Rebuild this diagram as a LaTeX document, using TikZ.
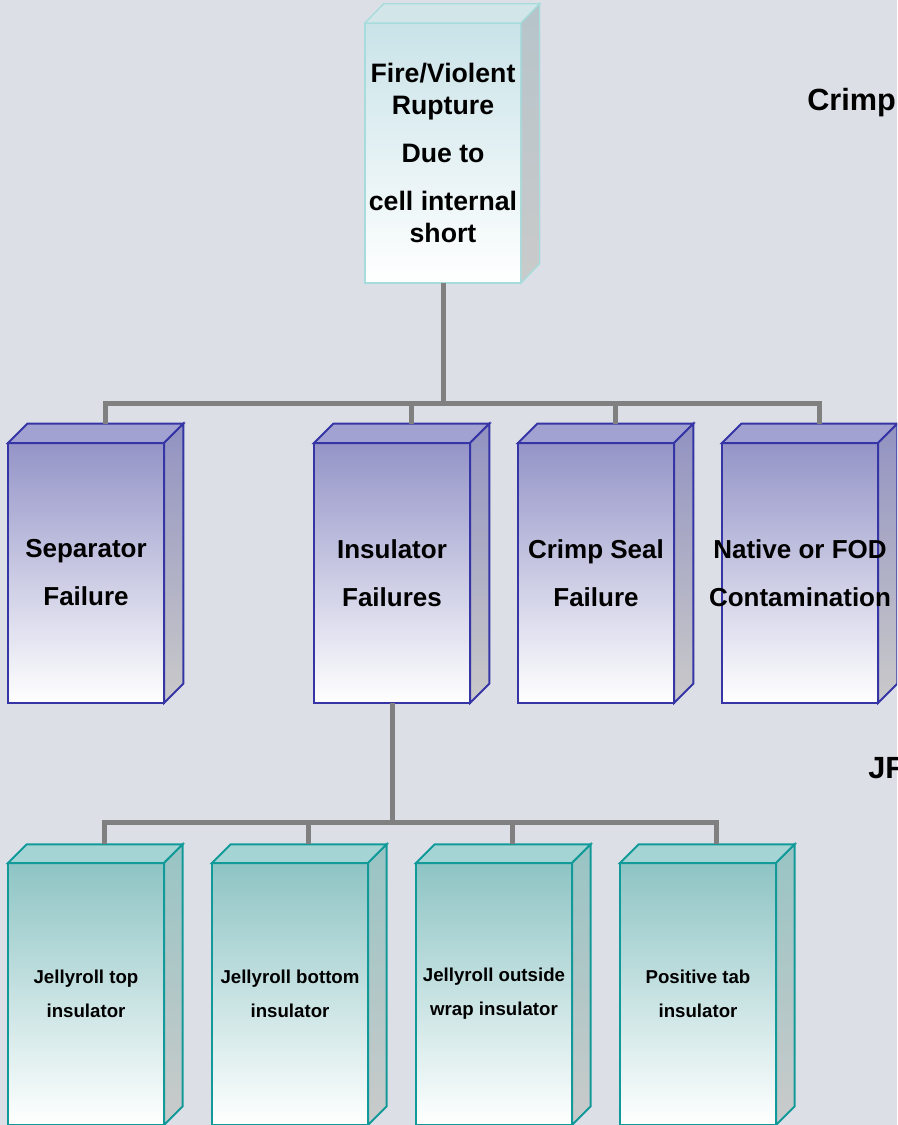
\documentclass[tikz,border=0pt]{standalone}
\usepackage{xcolor}
\usepackage{fontspec}
\setmainfont{Liberation Sans}
\usepackage{tikz}
\usetikzlibrary{positioning, calc}

\definecolor{bgpage}{HTML}{DDDFE6}
\definecolor{linkgray}{HTML}{808080}
\definecolor{topedge}{HTML}{A6DCDC}
\definecolor{topfill}{HTML}{C9E3E8}
\definecolor{topface}{HTML}{D2E6EA}
\definecolor{topside}{HTML}{B6C4CA}
\definecolor{failedge}{HTML}{3535A5}
\definecolor{failfill}{HTML}{9494C8}
\definecolor{failmid}{HTML}{C4C4DF}
\definecolor{failface}{HTML}{A2A2D2}
\definecolor{failside}{HTML}{9292C2}
\definecolor{partedge}{HTML}{129A9A}
\definecolor{partfill}{HTML}{8EC4C4}
\definecolor{partmid}{HTML}{C2DDDD}
\definecolor{partface}{HTML}{A4D4D4}
\definecolor{partside}{HTML}{98C4C4}
\definecolor{sidegray}{HTML}{CACACA}

\tikzstyle{link} = [draw=linkgray, line width=3.75pt]

\begin{document}
\begin{tikzpicture}[
    x=0.75pt, y=-0.75pt,
    topbox/.style={rectangle, draw=topedge, line width=1pt, outer sep=0pt, inner sep=0pt, top color=topfill, bottom color=white, minimum width=117pt, minimum height=195pt, align=center, font=\fontsize{20}{24}\selectfont\bfseries},
    failbox/.style={rectangle, draw=failedge, line width=1.5pt, outer sep=0pt, inner sep=0pt, top color=failfill, middle color=failmid, bottom color=white, minimum width=117pt, minimum height=195pt, align=center, font=\fontsize{19.5}{23.4}\selectfont\bfseries},
    partbox/.style={rectangle, draw=partedge, line width=1.5pt, outer sep=0pt, inner sep=0pt, top color=partfill, middle color=partmid, bottom color=white, minimum width=117pt, minimum height=196.5pt, align=center, font=\fontsize{14}{16.8}\selectfont\bfseries},
    sidetext/.style={anchor=west, inner sep=0pt, font=\fontsize{23}{27}\selectfont\bfseries},
    node distance=0pt and 36pt
  ]
    \clip (0,0) rectangle (897,1125);
    \fill[bgpage] (0,0) rectangle (897,1125);

    % Top event
    \node[topbox] (top) at (443,153) {Fire/Violent\\Rupture\\[12pt]Due to\\[12pt]cell internal\\short};

    % Failure modes
    \node[failbox] (sep) at (86,573) {Separator\\[12.6pt]Failure};
    \node[failbox, right=112.5pt of sep] (ins) {Insulator\\[12.6pt]Failures};
    \node[failbox, right=of ins] (crimp) {Crimp Seal\\[12.6pt]Failure};
    \node[failbox, right=of crimp] (nat) {};

    % Insulators
    \node[partbox] (jtop) at (86,994) {Jellyroll top\\[8.5pt]insulator};
    \node[partbox, right=of jtop] (jbot) {Jellyroll bottom\\[8.5pt]insulator};
    \node[partbox, right=of jbot] (jwrap) {Jellyroll outside\\[8.5pt]wrap insulator};
    \node[partbox, right=of jwrap] (ptab) {Positive tab\\[8.5pt]insulator};

    % 3D faces
    \path[draw=topedge, line width=1pt, fill=topface]
      (top.north west) -- ++(14pt,14.5pt) -- ($(top.north east)+(14pt,14.5pt)$) -- (top.north east) -- cycle;
    \path[draw=topedge, line width=1pt, top color=topside, bottom color=sidegray]
      (top.north east) -- ++(14pt,14.5pt) -- ($(top.south east)+(14pt,14.5pt)$) -- (top.south east) -- cycle;
    \foreach \n in {sep,ins,crimp,nat}{
      \path[draw=failedge, line width=1.5pt, fill=failface]
        (\n.north west) -- ++(14.5pt,14.5pt) -- ($(\n.north east)+(14.5pt,14.5pt)$) -- (\n.north east) -- cycle;
      \path[draw=failedge, line width=1.5pt, top color=failside, bottom color=sidegray]
        (\n.north east) -- ++(14.5pt,14.5pt) -- ($(\n.south east)+(14.5pt,14.5pt)$) -- (\n.south east) -- cycle;
    }
    \foreach \n in {jtop,jbot,jwrap,ptab}{
      \path[draw=partedge, line width=1.5pt, fill=partface]
        (\n.north west) -- ++(14pt,14pt) -- ($(\n.north east)+(14pt,14pt)$) -- (\n.north east) -- cycle;
      \path[draw=partedge, line width=1.5pt, top color=partside, bottom color=sidegray]
        (\n.north east) -- ++(14pt,14pt) -- ($(\n.south east)+(14pt,14pt)$) -- (\n.south east) -- cycle;
    }
    % text of the last box runs over its side face
    \node[font=\fontsize{19.5}{23.4}\selectfont\bfseries, align=center, inner sep=0pt] (natlbl) at (nat.center)
      {\makebox[0pt]{Native or FOD}\\[12.6pt]\makebox[0pt]{Contamination}};

    % Connectors
    \draw[link] (top.south) -- ++(0,120) coordinate (bus1);
    \foreach \n in {sep,ins,crimp,nat}
      \draw[link] (bus1) -| ($(\n.north)+(14.5pt,14.5pt)$);
    \draw[link] (ins.south) -- ++(0,119) coordinate (bus2);
    \foreach \n in {jtop,jbot,jwrap,ptab}
      \draw[link] (bus2) -| ($(\n.north)+(14pt,14pt)$);

    % Cut-off labels at the right edge
    \node[sidetext] (crimplbl) at (807,103) {Crimp};
    \node[sidetext] (jflbl) at (868,768) {JF};
  \end{tikzpicture}
\end{document}
